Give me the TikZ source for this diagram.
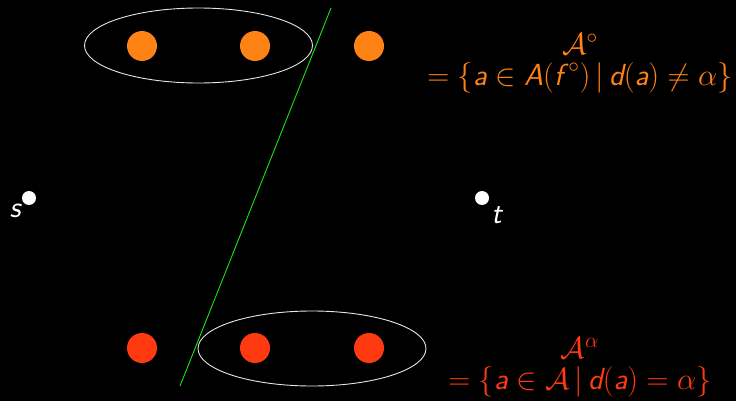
\RequirePackage{fix-cm}
\documentclass[tikz,border=0pt]{standalone}
\usepackage{amsmath,amssymb}
\usepackage{xcolor}
\usetikzlibrary{shapes.geometric, positioning}
\definecolor{arcorange}{RGB}{255,130,20}
\definecolor{arcred}{RGB}{255,58,16}
\definecolor{cutgreen}{RGB}{20,230,20}
\newcommand{\sv}[1]{\textsf{\slshape #1}}
\tikzstyle{arc} = [circle, minimum size=30pt, inner sep=0pt]
\tikzstyle{terminal} = [circle, fill=white, minimum size=14pt, inner sep=0pt]
\tikzstyle{group} = [ellipse, draw=white!90!black, line width=0.9pt, minimum width=228pt, minimum height=75pt]
\tikzstyle{setlabel} = [font=\fontsize{30.5}{36}\selectfont, inner sep=0pt]

\begin{document}
\begin{tikzpicture}[x=1pt, y=-1pt]
    % background
    \fill [black] (0,0) rectangle (736,401);
    \useasboundingbox (0,0) rectangle (736,401);
    % Nodes
    \node [arc, fill=arcorange] (o1) at (142,46) {};
    \node [arc, fill=arcorange] (o2) at (255,46) {};
    \node [arc, fill=arcorange] (o3) at (369,46) {};
    \node [arc, fill=arcred] (r1) at (142,348) {};
    \node [arc, fill=arcred] (r2) at (255,348) {};
    \node [arc, fill=arcred] (r3) at (369,348) {};
    \node [group] (topgroup) at (198.5,45.5) {};
    \node [group] (botgroup) at (312,348.5) {};
    \node [terminal] (s) at (29,198) {};
    \node [terminal] (t) at (482,198) {};
    \node [setlabel, text=white, below left=1pt and 3pt of s] (slabel) {$\sv{s}$};
    \node [setlabel, text=white, below right=3pt and 4pt of t] (tlabel) {$\sv{t}$};
    % Sets
    \node [setlabel, text=arcorange] (acirc) at (580,44) {$\mathcal{A}^\circ$};
    \node [setlabel, text=arcorange, below=8pt of acirc] (acircset) {$= \{\sv{a} \in \sv{A}(\sv{f\/}^\circ)\,|\,\sv{d}(\sv{a}) \neq \alpha\}$};
    \node [setlabel, text=arcred] (aalpha) at (580,348) {$\mathcal{A}^\alpha$};
    \node [setlabel, text=arcred, below=8pt of aalpha] (aalphaset) {$= \{\sv{a} \in \mathcal{A}\,|\,\sv{d}(\sv{a}) = \alpha\}$};
    % Cut
    \coordinate (cuttop) at (331,8);
    \coordinate (cutbot) at (180,386);
    \draw [cutgreen, line width=0.9pt] (cuttop) -- (cutbot);
\end{tikzpicture}
\end{document}
